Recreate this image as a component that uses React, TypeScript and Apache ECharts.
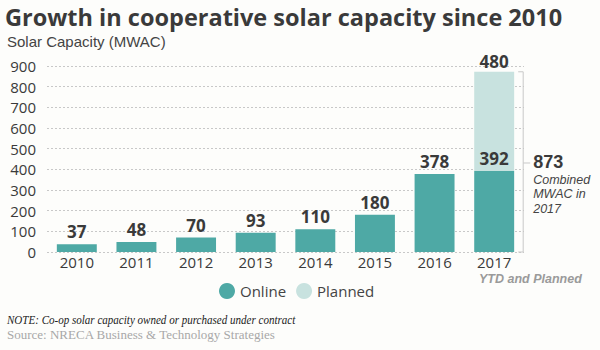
import React, { useEffect, useRef } from "react";
import * as echarts from "echarts";

const years = ["2010", "2011", "2012", "2013", "2014", "2015", "2016", "2017"];
const online = [37, 48, 70, 93, 110, 180, 378, 392];
const planned = [null, null, null, null, null, null, null, 480];
const combinedTotal = 873;
const yTicks = [0, 100, 200, 300, 400, 500, 600, 700, 800, 900];
const combinedNote = ["Combined", "MWAC in", "2017"];

const TEAL = "#4ea9a5";
const LIGHT = "#c8e2df";
const DARK = "#3a3a3a";
const SANS = "'Open Sans', 'DejaVu Sans', sans-serif";
const LSANS = "'Liberation Sans', Arial, sans-serif";
const SERIF = "'Liberation Serif', 'DejaVu Serif', serif";

export default function App() {
  const ref = useRef<HTMLDivElement>(null);
  useEffect(() => {
    if (!ref.current) return;
    const chart = echarts.init(ref.current, null, { renderer: "svg" });
    const option: any = {
      animation: false,
      backgroundColor: "#fdfdfb",
      grid: { left: 47, right: 76, top: 66, bottom: 98 },
      legend: {
        left: 214,
        top: 278,
        icon: "circle",
        itemWidth: 16,
        itemHeight: 16,
        itemGap: 10,
        textStyle: { fontFamily: SANS, fontSize: 15, color: "#444" },
        data: ["Online", "Planned"],
      },
      xAxis: {
        type: "category",
        data: years,
        axisLine: { show: false },
        axisTick: { show: false },
        axisLabel: { fontFamily: SANS, fontSize: 15, lineHeight: 15, color: DARK, margin: 2, fontWeight: 500 },
      },
      yAxis: {
        type: "value",
        min: yTicks[0],
        max: yTicks[yTicks.length - 1],
        interval: 100,
        axisLine: { show: false },
        axisTick: { show: false },
        axisLabel: { fontFamily: SANS, fontSize: 15, color: DARK, margin: 11, fontWeight: 500 },
        splitLine: { lineStyle: { color: "#c8c8c8", type: [2, 2], width: 1 } },
      },
      series: [
        {
          name: "Online",
          type: "bar",
          stack: "total",
          data: online,
          barCategoryGap: "33%",
          itemStyle: { color: TEAL },
          label: {
            show: true,
            position: "top",
            distance: 4,
            fontFamily: SANS,
            fontWeight: "bold",
            fontSize: 17,
            color: DARK,
          },
        },
        {
          name: "Planned",
          type: "bar",
          stack: "total",
          data: planned,
          itemStyle: { color: LIGHT },
          label: {
            show: true,
            position: "top",
            distance: 2,
            fontFamily: SANS,
            fontWeight: "bold",
            fontSize: 17,
            color: DARK,
          },
        },
      ],
      graphic: [
        {
          type: "text",
          x: 5,
          y: 17,
          style: {
            text: "Growth in cooperative solar capacity since 2010",
            fontFamily: SANS,
            fontWeight: "bold",
            fontSize: 23.5,
            fill: DARK,
            verticalAlign: "middle",
          },
        },
        {
          type: "text",
          x: 7,
          y: 41.5,
          style: {
            text: "Solar Capacity (MWAC)",
            fontFamily: LSANS,
            fontSize: 15,
            fill: "#444",
            verticalAlign: "middle",
          },
        },
        {
          type: "text",
          x: 479,
          y: 279,
          style: {
            text: "YTD and Planned",
            fontFamily: LSANS,
            fontStyle: "italic",
            fontWeight: "bold",
            fontSize: 12.5,
            fill: "#9a9a9a",
            verticalAlign: "middle",
          },
        },
        {
          type: "text",
          x: 7,
          y: 313,
          scaleX: 0.85,
          style: {
            text: "NOTE: Co-op solar capacity owned or purchased under contract",
            fontFamily: SERIF,
            fontStyle: "italic",
            fontSize: 13,
            lineHeight: 14,
            fill: "#222",
          },
        },
        {
          type: "text",
          x: 7,
          y: 327,
          style: {
            text: "Source: NRECA Business & Technology Strategies",
            fontFamily: SERIF,
            fontSize: 13,
            lineHeight: 14,
            fill: "#a8a8a8",
          },
        },
      ],
    };
    chart.setOption(option);

    const last = years.length - 1;
    const [cx, yBottom] = chart.convertToPixel({ xAxisIndex: 0, yAxisIndex: 0 } as any, [years[last], 0]);
    const [, yTop] = chart.convertToPixel({ xAxisIndex: 0, yAxisIndex: 0 } as any, [
      years[last],
      online[last] + (planned[last] as number),
    ]);
    const [, yOnline] = chart.convertToPixel({ xAxisIndex: 0, yAxisIndex: 0 } as any, [years[last], online[last]]);
    const bx = cx + 29;
    const yMid = yOnline - 8;
    const lineStyle = { stroke: "#c8c8c8", lineWidth: 1 };
    const noteTexts = combinedNote.map((t, i) => ({
      type: "text",
      x: bx + 10,
      y: yMid + 17 + i * 14.5,
      style: {
        text: t,
        fontFamily: LSANS,
        fontStyle: "italic",
        fontSize: 12.5,
        lineHeight: 12,
        fill: "#444",
        verticalAlign: "middle",
      },
    }));
    chart.setOption({
      graphic: [
        ...option.graphic,
        {
          type: "polyline",
          shape: { points: [[cx + 24, yTop], [bx, yTop], [bx, yBottom], [cx + 24, yBottom]] },
          style: { ...lineStyle, fill: null },
        },
        { type: "line", shape: { x1: bx, y1: yMid, x2: bx + 7, y2: yMid }, style: lineStyle },
        {
          type: "text",
          x: bx + 10,
          y: yMid - 1,
          style: {
            text: String(combinedTotal),
            fontFamily: LSANS,
            fontWeight: "bold",
            fontSize: 18,
            lineHeight: 16,
            fill: DARK,
            verticalAlign: "middle",
          },
        },
        ...noteTexts,
      ],
    });

    return () => chart.dispose();
  }, []);
  return (
    <div
      ref={ref}
      style={{ position: "absolute", left: 0, top: 0, width: 600, height: 350 }}
    />
  );
}
